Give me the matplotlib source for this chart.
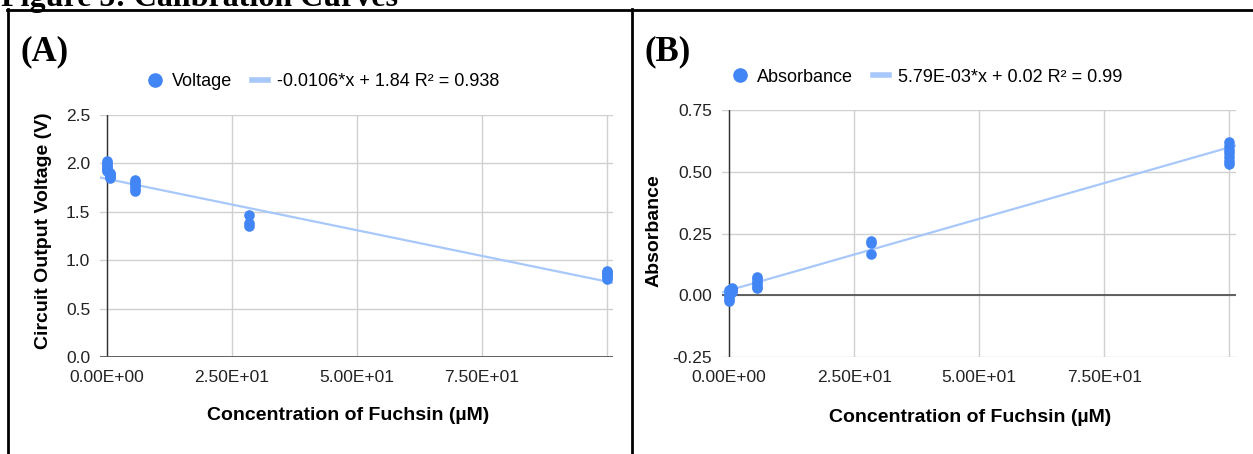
import matplotlib
matplotlib.use("Agg")
from matplotlib import pyplot as plt
from matplotlib.lines import Line2D
import numpy as np

# Calibration data.
concVoltage = [0, 0, 0, 0, 0, 0, 0,
               0.6, 0.6, 0.6, 0.6, 0.6,
               5.6, 5.6, 5.6, 5.6, 5.6, 5.6,
               28.4, 28.4, 28.4,
               100, 100, 100, 100, 100, 100]
voltage = [2.02, 2.00, 1.98, 1.96, 1.95, 1.93, 1.92,
           1.90, 1.89, 1.88, 1.86, 1.85,
           1.83, 1.81, 1.79, 1.77, 1.74, 1.72,
           1.47, 1.38, 1.35,
           0.89, 0.88, 0.86, 0.85, 0.83, 0.81]

concAbs = [0, 0, 0, 0, 0, 0,
           0.6, 0.6, 0.6, 0.6,
           5.6, 5.6, 5.6, 5.6, 5.6, 5.6,
           28.4, 28.4, 28.4,
           100, 100, 100, 100, 100, 100, 100]
absorbance = [0.02, 0.01, 0.00, -0.005, -0.015, -0.022,
              0.03, 0.025, 0.02, 0.015,
              0.075, 0.065, 0.055, 0.045, 0.035, 0.03,
              0.22, 0.21, 0.165,
              0.62, 0.605, 0.59, 0.575, 0.56, 0.545, 0.53]

# Trendline coefficients as printed in the legends.
voltageFit = (-0.0106, 1.84)
absFit = (5.79e-3, 0.02)

xTicks = [0, 25, 50, 75, 100]
xTickLabels = ['0.00E+00', '2.50E+01', '5.00E+01', '7.50E+01', '']
voltTicks = [0.0, 0.5, 1.0, 1.5, 2.0, 2.5]
voltTickLabels = ['0.0', '0.5', '1.0', '1.5', '2.0', '2.5']
absTicks = [-0.25, 0.0, 0.25, 0.5, 0.75]
absTickLabels = ['-0.25', '0.00', '0.25', '0.50', '0.75']

W, H = 1253, 454
DOT = '#4285F4'
TREND = '#A8C7FA'
GRID = '#D0D0D0'

plt.rcParams['font.family'] = ['Liberation Sans', 'DejaVu Sans']

fig = plt.figure(figsize=(W / 100, H / 100), dpi=100)


def px(x, y):
    # figure pixel (from top-left) -> figure fraction
    return x / W, 1 - y / H


def draw_panel(ax, xs, ys, fit, yticks, yticklabels, ylim, ylabel):
    xlim = (-1.4, 101.3)
    ax.set_xlim(*xlim)
    ax.set_ylim(*ylim)
    for s in ax.spines.values():
        s.set_visible(False)
    ax.set_xticks(xTicks)
    ax.set_xticklabels(xTickLabels)
    ax.set_yticks(yticks)
    ax.set_yticklabels(yticklabels)
    ax.tick_params(length=0, labelsize=12.5, labelcolor='#222222')
    ax.tick_params(axis='y', pad=7)
    ax.tick_params(axis='x', pad=9)
    ax.grid(True, color=GRID, linewidth=1.0)
    ax.set_axisbelow(True)
    ax.axvline(0, color='#333333', linewidth=1.0, zorder=1)
    ax.axhline(0, color='#555555', linewidth=1.3, zorder=1)

    xl = np.array(xlim)
    ax.plot(xl, fit[0] * xl + fit[1], color=TREND, linewidth=1.6, zorder=2)
    ax.scatter(xs, ys, s=58, color=DOT, zorder=3, linewidths=0)

    ax.set_ylabel(ylabel, fontsize=14, fontweight='bold')
    ax.set_xlabel('Concentration of Fuchsin (µM)', fontsize=14,
                  fontweight='bold')

    handles = [Line2D([], [], marker='o', linestyle='', color=DOT,
                      markersize=9.5),
               Line2D([], [], color=TREND, linewidth=4)]
    return handles


# Panel A
axA = fig.add_axes([100 / W, 97 / H, 513 / W, 242 / H])
hA = draw_panel(axA, concVoltage, voltage, voltageFit, voltTicks,
                voltTickLabels, (0, 2.5), 'Circuit Output Voltage (V)')
axA.yaxis.set_label_coords((52 - 100) / 513, 0.52)
axA.xaxis.set_label_coords((348 - 100) / 513, (357 - 407) / 242)
axA.legend(hA, ['Voltage', '-0.0106*x + 1.84 R² = 0.938'], ncol=2,
           frameon=False, fontsize=13, handlelength=0.9, handletextpad=0.5,
           columnspacing=1.1, loc='center',
           bbox_to_anchor=((323 - 100) / 513, (357 - 82) / 242))

# Panel B
axB = fig.add_axes([722 / W, 97 / H, 514 / W, 247 / H])
hB = draw_panel(axB, concAbs, absorbance, absFit, absTicks, absTickLabels,
                (-0.25, 0.75), 'Absorbance')
axB.yaxis.set_label_coords((663 - 722) / 514, 0.51)
axB.xaxis.set_label_coords((970 - 722) / 514, (357 - 409) / 247)
axB.legend(hB, ['Absorbance', '5.79E-03*x + 0.02 R² = 0.99'], ncol=2,
           frameon=False, fontsize=13, handlelength=0.9, handletextpad=0.5,
           columnspacing=1.1, loc='center',
           bbox_to_anchor=((927 - 722) / 514, (357 - 77) / 247))

# Document bits: title (cut off at the top as in the page), table borders,
# panel letters
serif = ['Liberation Serif', 'DejaVu Serif']
fig.text(*px(1, 6), 'Figure 5: Calibration Curves', family=serif,
         fontweight='bold', fontsize=23, va='baseline', ha='left')
fig.text(*px(20, 60), '(A)', family=serif, fontweight='bold', fontsize=25,
         va='baseline', ha='left')
fig.text(*px(645, 60), '(B)', family=serif, fontweight='bold', fontsize=25,
         va='baseline', ha='left')

borders = [((7, 1253), (9.5, 9.5)), ((8, 8), (9, 454)), ((632, 632), (9, 454))]
for bx, by in borders:
    x0, y0 = px(bx[0], by[0])
    x1, y1 = px(bx[1], by[1])
    fig.add_artist(Line2D([x0, x1], [y0, y1], color='black', linewidth=2.0,
                          transform=fig.transFigure))

fig.savefig('out.png', dpi=100)
